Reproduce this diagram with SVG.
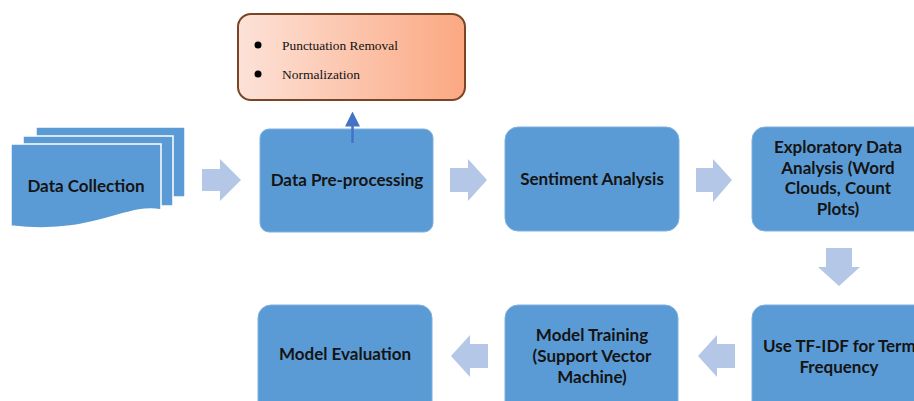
<svg xmlns="http://www.w3.org/2000/svg" width="914" height="401" viewBox="0 0 914 401">
<defs>
<linearGradient id="peach" x1="0" y1="0" x2="1" y2="0">
<stop offset="0" stop-color="#FDE2D8"/>
<stop offset="1" stop-color="#FBA882"/>
</linearGradient>
<marker id="ah" viewBox="0 0 10 10" refX="1" refY="5" markerWidth="6" markerHeight="6" orient="auto" markerUnits="strokeWidth">
<path d="M0,0 L10,5 L0,10 z" fill="#4472C4"/>
</marker>
<style>
.box{fill:#5B9BD5;stroke:#7FB0DD;stroke-width:1}
.sheet{fill:#5B9BD5;stroke:#FFFFFF;stroke-width:1.5}
.lbl{font-family:Lato,"Open Sans",sans-serif;font-size:17px;font-weight:700;fill:#141414;text-anchor:middle}
.blk{fill:#B4C7E7}
.note{font-family:"Liberation Serif",serif;font-size:11.5px;fill:#111}
</style>
</defs>
<rect width="914" height="401" fill="#FFFFFF"/>

<g id="data-collection">
<rect class="sheet" x="36" y="127" width="149" height="70"/>
<rect class="sheet" x="23" y="136" width="150" height="70"/>
<path class="sheet" d="M11,144 H161 V210 C125,203 95,236 11,226 Z"/>
<text class="lbl" x="86" y="192">Data Collection</text>
</g>

<g id="preprocessing-notes">
<rect x="238" y="14" width="227" height="86" rx="13" fill="url(#peach)" stroke="#7A4524" stroke-width="2"/>
<circle cx="258" cy="45" r="3.5" fill="#000"/>
<circle cx="258" cy="74" r="3.5" fill="#000"/>
<text class="note" x="282" y="50" textLength="116" lengthAdjust="spacingAndGlyphs">Punctuation Removal</text>
<text class="note" x="282" y="79" textLength="78" lengthAdjust="spacingAndGlyphs">Normalization</text>
</g>

<g id="data-preprocessing">
<rect class="box" x="260" y="129" width="173" height="103" rx="9"/>
<text class="lbl" x="347" y="186">Data Pre-processing</text>
</g>

<g id="sentiment-analysis">
<rect class="box" x="505" y="127" width="174" height="104" rx="13"/>
<text class="lbl" x="592" y="185">Sentiment Analysis</text>
</g>

<g id="eda">
<rect class="box" x="752" y="127" width="175" height="104" rx="13"/>
<text class="lbl" x="838" y="153">Exploratory Data</text>
<text class="lbl" x="838" y="174">Analysis (Word</text>
<text class="lbl" x="838" y="194">Clouds, Count</text>
<text class="lbl" x="838" y="215">Plots)</text>
</g>

<g id="tfidf">
<rect class="box" x="752" y="305" width="175" height="110" rx="13"/>
<text class="lbl" x="763" y="352" style="text-anchor:start">Use TF-IDF for Term</text>
<text class="lbl" x="839" y="373">Frequency</text>
</g>

<g id="model-training">
<rect class="box" x="505" y="305" width="173" height="110" rx="13"/>
<text class="lbl" x="592" y="341">Model Training</text>
<text class="lbl" x="592" y="362">(Support Vector</text>
<text class="lbl" x="592" y="383">Machine)</text>
</g>

<g id="model-evaluation">
<rect class="box" x="258" y="305" width="174" height="110" rx="13"/>
<text class="lbl" x="345" y="360">Model Evaluation</text>
</g>

<g id="connectors">
<path class="blk" d="M202,169 H220 V159 L241,180 L220,201 V191 H202 Z"/>
<path class="blk" d="M450,168 H468 V159 L487,180 L468,201 V192 H450 Z"/>
<path class="blk" d="M696,168 H713 V159 L732,180 L713,202 V192 H696 Z"/>
<path class="blk" d="M826,248 H852 V267 H860 L839,286 L818,267 H826 Z"/>
<path class="blk" d="M735,344 H717 V335 L698,356 L717,377 V368 H735 Z"/>
<path class="blk" d="M488,344 H470 V335 L451,356 L470,377 V368 H488 Z"/>
<line x1="352.5" y1="143" x2="352.5" y2="125" stroke="#4472C4" stroke-width="2.5" marker-end="url(#ah)"/>
</g>
</svg>
